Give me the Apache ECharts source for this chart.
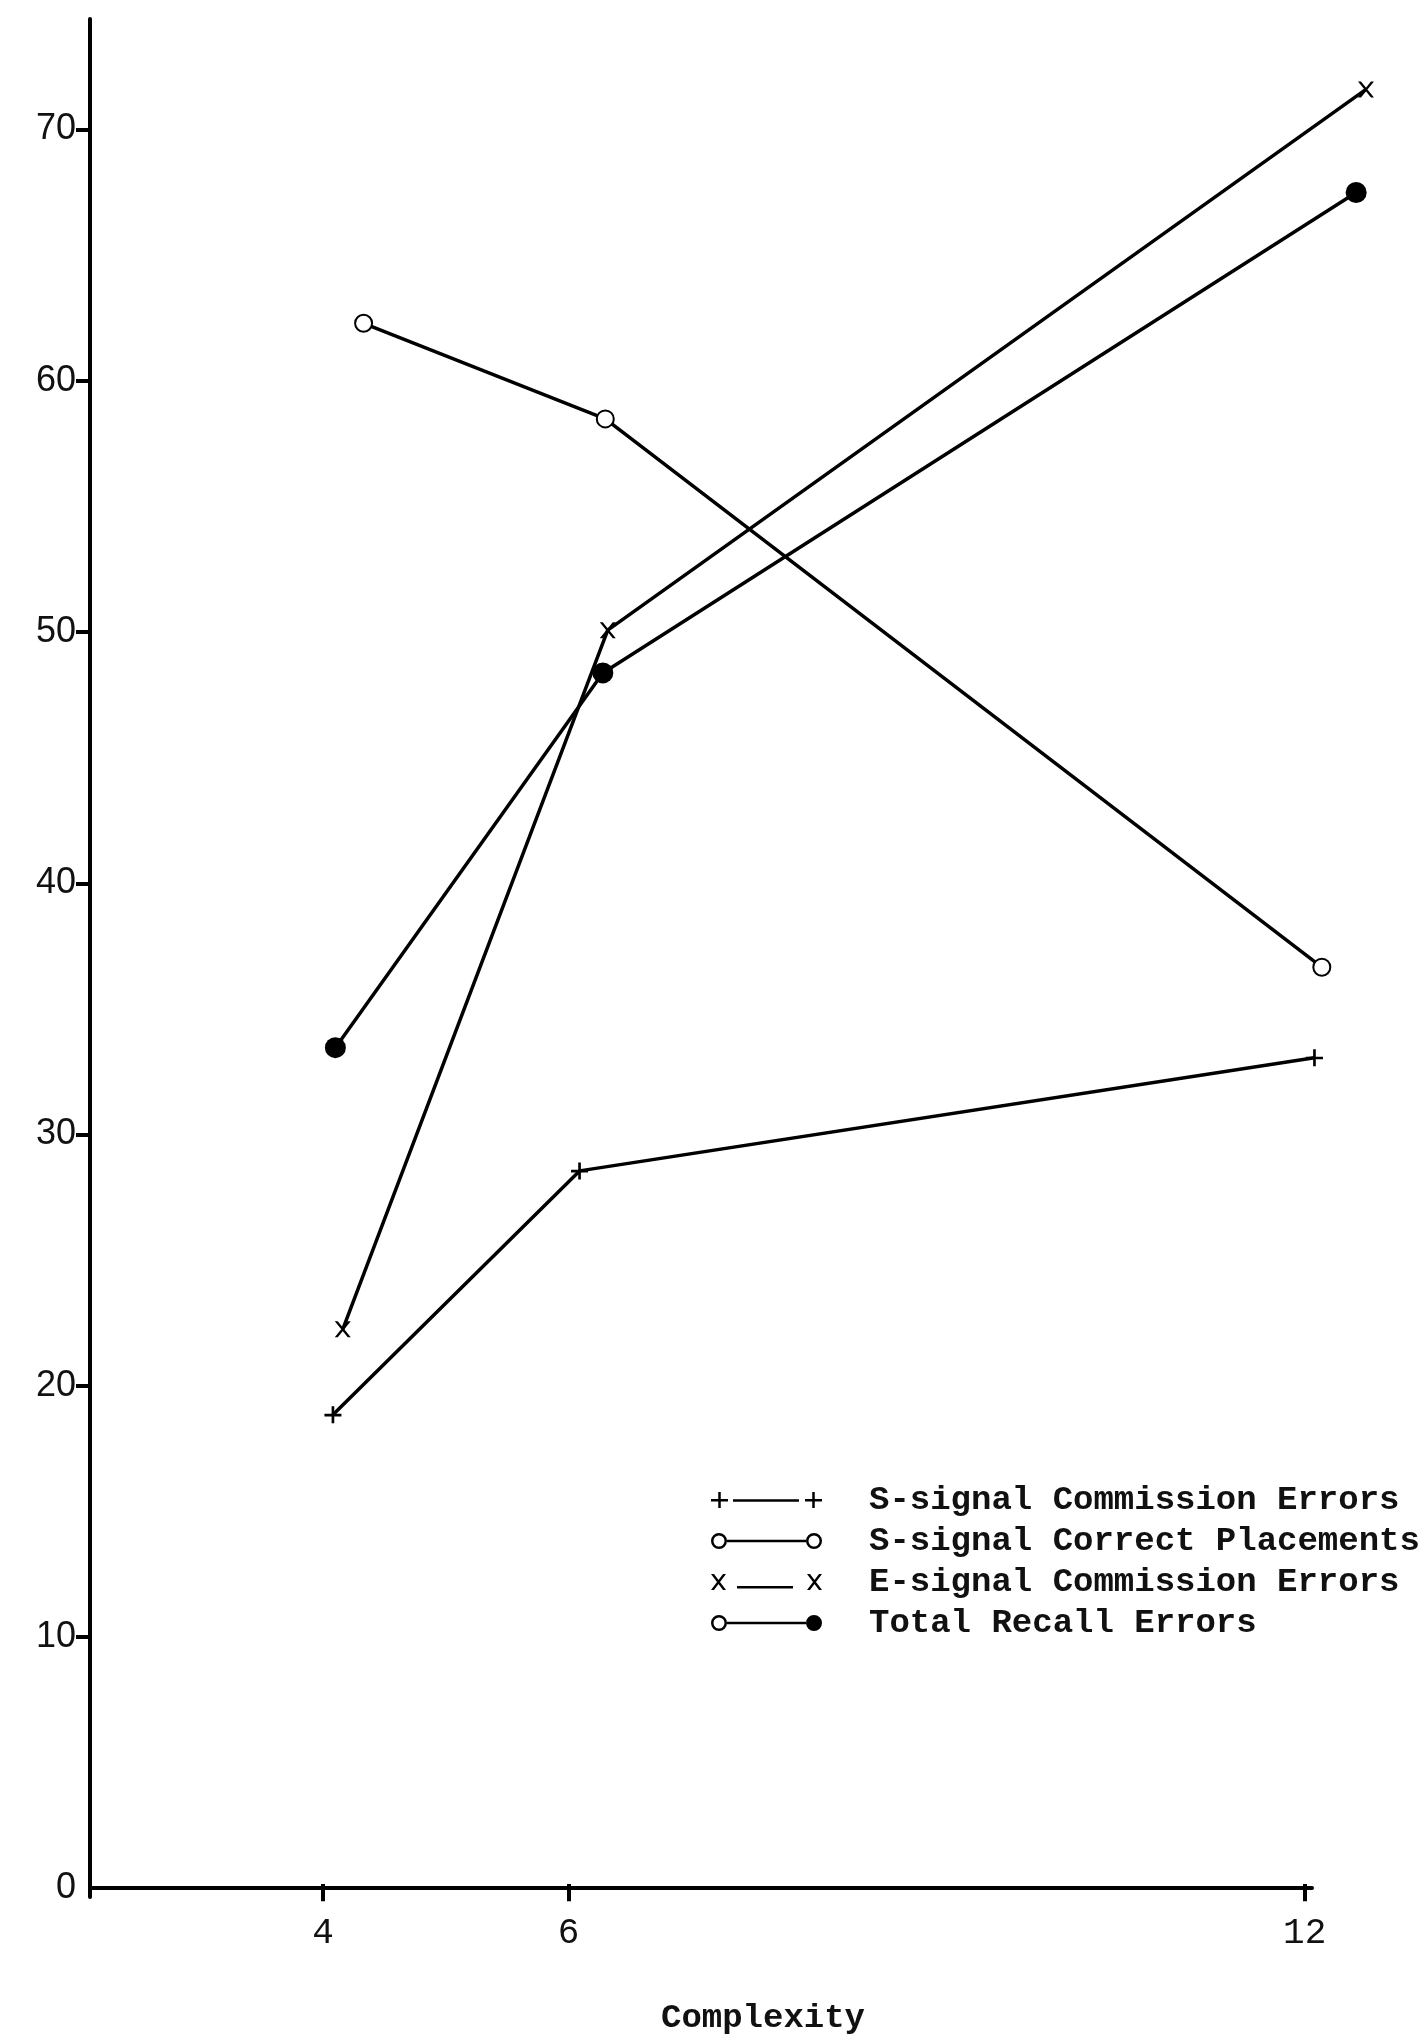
<!DOCTYPE html>
<html>
<head>
<meta charset="utf-8">
<script src="https://cdn.jsdelivr.net/npm/echarts@6/dist/echarts.min.js"></script>
<style>
  html, body { margin: 0; padding: 0; background: #ffffff; }
  #chart { width: 1426px; height: 2040px; }
</style>
</head>
<body>
<div id="chart"></div>
<script>
// Complexity levels (tick labels) and where each series' marks sit along the axis
const complexityTicks = [4, 6, 12];
const yTickValues = [0, 10, 20, 30, 40, 50, 60, 70];

const sCommX = [4.08, 6.09, 12.08];
const sCommY = [18.9, 28.6, 33.1];

const sCorrectX = [4.33, 6.30, 12.14];
const sCorrectY = [62.3, 58.5, 36.7];

const eCommX = [4.16, 6.32, 12.50];
const eCommY = [22.3, 50.1, 71.6];

const totalX = [4.10, 6.28, 12.42];
const totalY = [33.5, 48.4, 67.5];

const seriesNames = [
  'S-signal Commission Errors',
  'S-signal Correct Placements',
  'E-signal Commission Errors',
  'Total Recall Errors'
];

function pairs(xs, ys) { return xs.map((x, i) => [x, ys[i]]); }

const PLUS = 'path://M0 7H16V9.5H0Z M6.75 0H9.25V16H6.75Z';
const CROSS = 'path://M0 0H3L16 16H13Z M13 0H16L3 16H0Z';

const ICON_PLUS = 'path://M0 7H17V9.5H0Z M7.25 0H9.75V16H7.25Z M22 7.2H88V9.7H22Z M94 7H111V9.5H94Z M101.25 0H103.75V16H101.25Z';
const ICON_CIRC = 'path://M16 8A8 8 0 1 0 0 8A8 8 0 1 0 16 8Z M13.5 8A5.5 5.5 0 1 1 2.5 8A5.5 5.5 0 1 1 13.5 8Z M16 6.8H95V9.2H16Z M111 8A8 8 0 1 0 95 8A8 8 0 1 0 111 8Z M108.5 8A5.5 5.5 0 1 1 97.5 8A5.5 5.5 0 1 1 108.5 8Z';
const ICON_X = 'path://M0 0H3L15 16H12Z M12 0H15L3 16H0Z M26 12H82V14.5H26Z M96 0H99L111 16H108Z M108 0H111L99 16H96Z';
const ICON_TOTAL = 'path://M16 8A8 8 0 1 0 0 8A8 8 0 1 0 16 8Z M13.5 8A5.5 5.5 0 1 1 2.5 8A5.5 5.5 0 1 1 13.5 8Z M16 6.8H95V9.2H16Z M111 8A8 8 0 1 0 95 8A8 8 0 1 0 111 8Z';

const MONO = '"Liberation Mono", "DejaVu Sans Mono", monospace';

// axis frame range, and a wider range (same scale) so marks past the axis end are not cut
const X_MIN = 2.1, X_MAX_AXIS = 12.06, X_MAX_DATA = 12.6;
const GRID_LEFT = 90, GRID_TOP = 19, GRID_BOTTOM = 141, AXIS_WIDTH = 1222;
const DATA_WIDTH = AXIS_WIDTH * (X_MAX_DATA - X_MIN) / (X_MAX_AXIS - X_MIN);

const chart = echarts.init(document.getElementById('chart'), null, { renderer: 'canvas' });

const lineStyle = { color: '#000', width: 3.5 };

const option = {
  backgroundColor: '#ffffff',
  animation: false,
  grid: [
    { left: GRID_LEFT, width: AXIS_WIDTH, top: GRID_TOP, bottom: GRID_BOTTOM, containLabel: false },
    { left: GRID_LEFT, width: DATA_WIDTH, top: GRID_TOP, bottom: GRID_BOTTOM, containLabel: false }
  ],
  legend: {
    orient: 'vertical',
    left: 706,
    top: 1478,
    itemWidth: 111,
    itemHeight: 16,
    itemGap: 7,
    selectedMode: false,
    itemStyle: { color: '#000', borderWidth: 0, borderColor: '#000' },
    textStyle: {
      fontFamily: MONO,
      fontSize: 34,
      fontWeight: 'bold',
      lineHeight: 34,
      color: '#111',
      padding: [0, 0, 0, 42]
    },
    data: [
      { name: seriesNames[0], icon: ICON_PLUS },
      { name: seriesNames[1], icon: ICON_CIRC },
      { name: seriesNames[2], icon: ICON_X },
      { name: seriesNames[3], icon: ICON_TOTAL }
    ]
  },
  xAxis: [
    {
      type: 'value', gridIndex: 0,
      min: X_MIN, max: X_MAX_AXIS,
      position: 'bottom',
      name: 'Complexity',
      nameLocation: 'middle',
      nameGap: 104,
      nameTextStyle: {
        fontFamily: MONO, fontSize: 34, fontWeight: 'bold', color: '#111',
        padding: [0, 0, 0, 124]
      },
      axisLine: { show: true, lineStyle: { color: '#000', width: 4 } },
      axisTick: { show: true, inside: false, length: 13, lineStyle: { color: '#000', width: 4 }, customValues: complexityTicks },
      axisLabel: {
        show: true, margin: 18, customValues: complexityTicks,
        fontFamily: MONO, fontSize: 36, color: '#111'
      },
      splitLine: { show: false }
    },
    {
      type: 'value', gridIndex: 0,
      min: X_MIN, max: X_MAX_AXIS,
      position: 'bottom',
      axisLine: { show: false },
      axisTick: { show: true, inside: true, length: 13, lineStyle: { color: '#000', width: 4 }, customValues: complexityTicks },
      axisLabel: { show: false },
      splitLine: { show: false }
    },
    {
      type: 'value', gridIndex: 1,
      min: X_MIN, max: X_MAX_DATA,
      show: false,
      splitLine: { show: false }
    }
  ],
  yAxis: [
    {
      type: 'value', gridIndex: 0,
      min: -0.35, max: 74.4,
      axisLine: { show: true, lineStyle: { color: '#000', width: 4 } },
      axisTick: { show: true, inside: false, length: 14, lineStyle: { color: '#000', width: 4 }, customValues: yTickValues.slice(1) },
      axisLabel: {
        show: true, margin: 14, customValues: yTickValues,
        fontFamily: '"Liberation Sans", Arial, sans-serif',
        fontSize: 36, color: '#111'
      },
      splitLine: { show: false }
    },
    {
      type: 'value', gridIndex: 1,
      min: -0.35, max: 74.4,
      show: false,
      splitLine: { show: false }
    }
  ],
  series: [
    {
      name: seriesNames[0], type: 'line', xAxisIndex: 2, yAxisIndex: 1,
      data: pairs(sCommX, sCommY),
      symbol: PLUS, symbolSize: 17, clip: false,
      lineStyle: lineStyle, itemStyle: { color: '#000', borderWidth: 0 }
    },
    {
      name: seriesNames[1], type: 'line', xAxisIndex: 2, yAxisIndex: 1,
      data: pairs(sCorrectX, sCorrectY),
      symbol: 'emptyCircle', symbolSize: 17, clip: false,
      lineStyle: lineStyle, itemStyle: { color: '#000', borderColor: '#000', borderWidth: 3 }
    },
    {
      name: seriesNames[2], type: 'line', xAxisIndex: 2, yAxisIndex: 1,
      data: pairs(eCommX, eCommY),
      symbol: CROSS, symbolSize: 16, clip: false,
      lineStyle: lineStyle, itemStyle: { color: '#000', borderWidth: 0 }
    },
    {
      name: seriesNames[3], type: 'line', xAxisIndex: 2, yAxisIndex: 1,
      data: pairs(totalX, totalY),
      symbol: 'circle', symbolSize: 21, clip: false,
      lineStyle: lineStyle, itemStyle: { color: '#000', borderWidth: 0 }
    }
  ]
};

chart.setOption(option);
</script>
</body>
</html>
